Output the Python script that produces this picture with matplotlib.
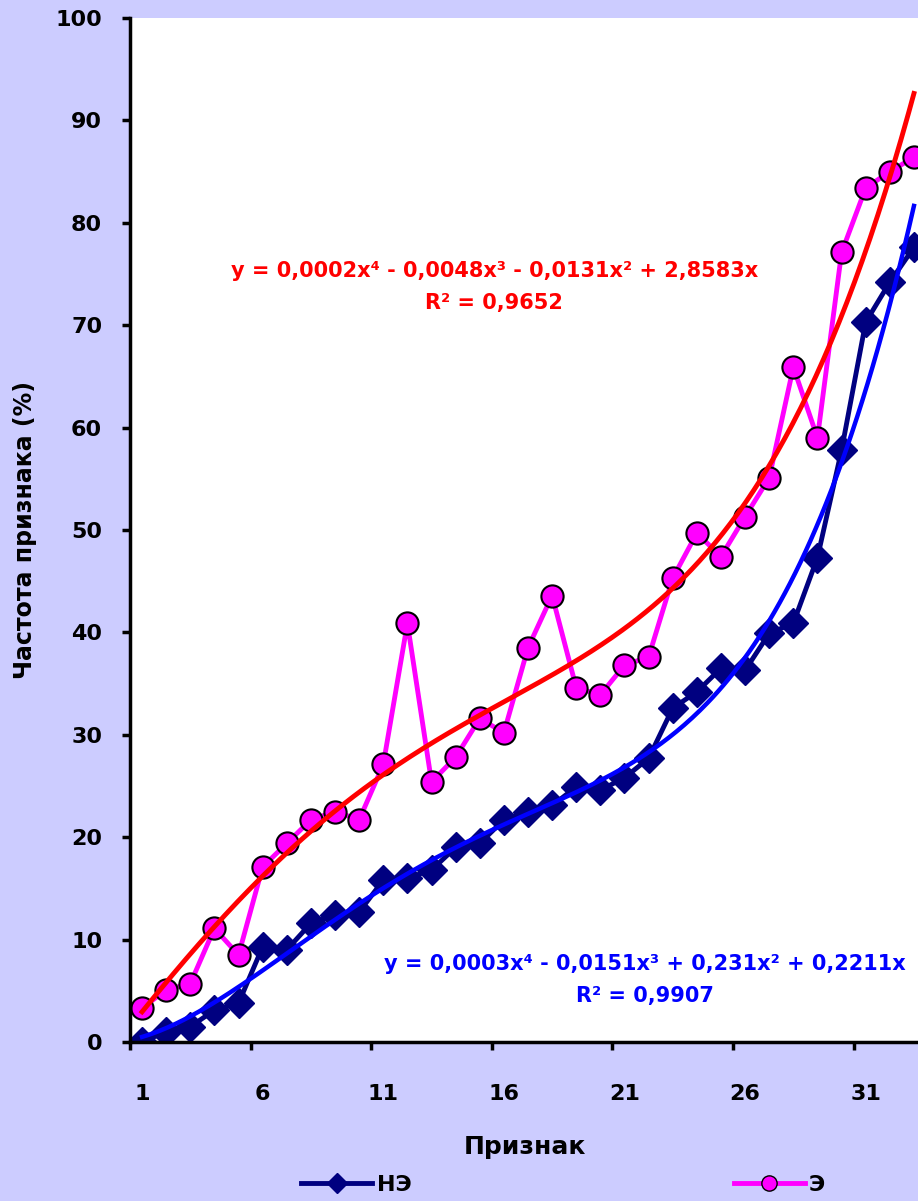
import numpy as np
import matplotlib
matplotlib.use('Agg')
import matplotlib.pyplot as plt
from matplotlib.lines import Line2D

# data
features = np.arange(1, 34)
ne_values = [0.0, 1.0, 1.5, 3.1, 3.8, 9.3, 9.0, 11.6, 12.4, 12.7, 15.8, 16.0, 16.8,
             19.0, 19.4, 21.7, 22.5, 23.1, 24.9, 24.6, 25.8, 27.7, 32.6, 34.2, 36.5,
             36.3, 39.9, 40.9, 47.3, 57.8, 70.3, 74.2, 77.6]
e_values = [3.3, 5.1, 5.7, 11.1, 8.5, 17.1, 19.4, 21.7, 22.5, 21.7, 27.1, 40.9, 25.4,
            27.8, 31.6, 30.2, 38.5, 43.6, 34.6, 33.9, 36.8, 37.6, 45.3, 49.7, 47.4,
            51.3, 55.1, 65.9, 59.0, 77.1, 83.4, 85.0, 86.4]
xtick_labels = ['1', '6', '11', '16', '21', '26', '31']
eq_e = 'y = 0,0002x\u2074 - 0,0048x\u00b3 - 0,0131x\u00b2 + 2,8583x\nR\u00b2 = 0,9652'
eq_ne = 'y = 0,0003x\u2074 - 0,0151x\u00b3 + 0,231x\u00b2 + 0,2211x\nR\u00b2 = 0,9907'


def poly4_trend(x, y):
    """4th order polynomial least squares fit with zero intercept (like Excel)."""
    x = np.asarray(x, float)
    A = np.column_stack([x, x**2, x**3, x**4])
    coef, *_ = np.linalg.lstsq(A, np.asarray(y, float), rcond=None)
    xs = np.linspace(x.min(), x.max(), 300)
    return xs, np.column_stack([xs, xs**2, xs**3, xs**4]) @ coef


bg = '#CCCCFF'
fig = plt.figure(figsize=(9.18, 12.01), dpi=100, facecolor=bg)
ax = fig.add_axes([130/918, 159/1201, 796/918, 1024/1201])
ax.set_facecolor('white')

ax.plot(features, ne_values, color='#000080', lw=3.5, marker='D', ms=15.5,
        mfc='#000080', mec='#000080', zorder=3)
ax.plot(features, e_values, color='#FF00FF', lw=3.5, marker='o', ms=16,
        mfc='#FF00FF', mec='black', mew=1.5, zorder=4)

xs, ys = poly4_trend(features, ne_values)
ax.plot(xs, ys, color='#0000FF', lw=3.2, zorder=5)
xs, ys = poly4_trend(features, e_values)
ax.plot(xs, ys, color='#FF0000', lw=3.5, zorder=6)

ax.set_xlim(0.5, 33.5)
ax.set_ylim(0, 100)
for s in ['top', 'right']:
    ax.spines[s].set_visible(False)
for s in ['left', 'bottom']:
    ax.spines[s].set_linewidth(2.5)
    ax.spines[s].set_zorder(10)

ax.set_yticks(range(0, 101, 10))
ax.tick_params(axis='y', length=6, width=2.5, pad=14, labelsize=16)
ax.set_xticks(features[::5])
ax.set_xticklabels(xtick_labels)
ax.set_xticks(np.arange(0.5, 33, 5), minor=True)
ax.tick_params(axis='x', which='major', length=0, pad=30, labelsize=16)
ax.tick_params(axis='x', which='minor', length=6, width=2.5)
for lbl in ax.get_xticklabels() + ax.get_yticklabels():
    lbl.set_fontweight('bold')

ax.text(15.6, 73.7, eq_e, color='#FF0000', fontsize=15, fontweight='bold',
        ha='center', va='center', linespacing=1.75)
ax.text(21.85, 6.05, eq_ne, color='#0000FF', fontsize=15, fontweight='bold',
        ha='center', va='center', linespacing=1.75)

fig.text(25/918, 1 - 530/1201, 'Частота признака (%)', rotation=90,
         ha='center', va='center', fontsize=17, fontweight='bold')
fig.text(525/918, 1 - 1147/1201, 'Признак', ha='center', va='center',
         fontsize=18, fontweight='bold')

handles = [Line2D([], [], color='#000080', lw=3.5, marker='D', ms=10, mfc='#000080'),
           Line2D([], [], color='#FF00FF', lw=3.5, marker='o', ms=11,
                  mfc='#FF00FF', mec='black', mew=1)]
fig.legend(handles, ['НЭ', 'Э'], loc='center left', ncol=2,
           bbox_to_anchor=(301/918, 1 - 1185/1201), frameon=False,
           borderpad=0, borderaxespad=0, handlelength=3.2, handletextpad=0.2,
           columnspacing=14.5, prop={'size': 16, 'weight': 'bold'})

fig.savefig('out.png', dpi=100, facecolor=bg)
